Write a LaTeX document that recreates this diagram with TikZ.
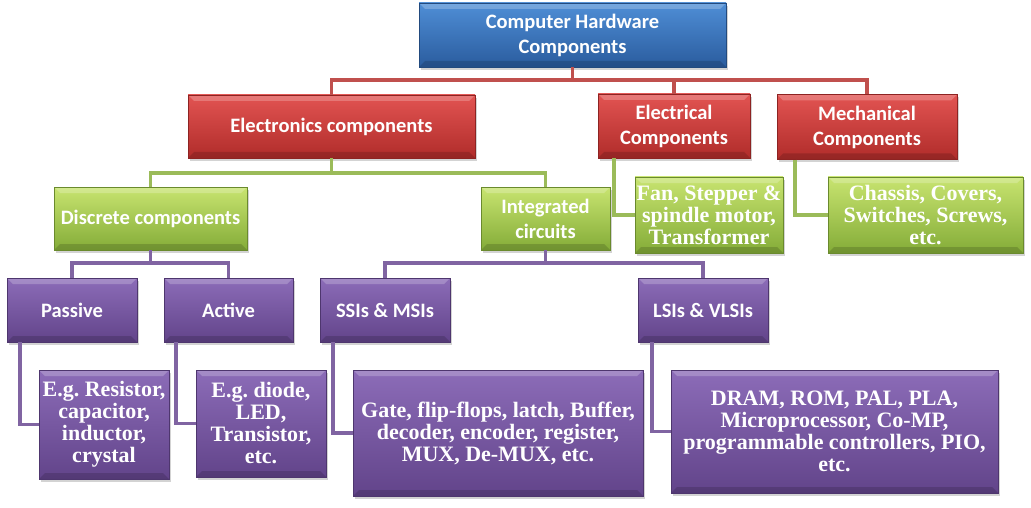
\documentclass[tikz,border=0pt]{standalone}
\usepackage{fontspec}
\usepackage{tikz}
\usetikzlibrary{shapes,shadows}
\newfontfamily\headfont{Carlito}
\newfontfamily\leaffont{Liberation Serif}
\frenchspacing

\definecolor{hwblueT}{RGB}{79,142,214}
\definecolor{hwblueB}{RGB}{42,92,158}
\definecolor{hwredT}{RGB}{226,84,82}
\definecolor{hwredB}{RGB}{176,44,42}
\definecolor{hwgreenT}{RGB}{200,228,112}
\definecolor{hwgreenB}{RGB}{132,172,56}
\definecolor{hwpurpT}{RGB}{140,108,184}
\definecolor{hwpurpB}{RGB}{98,68,138}
\definecolor{lnred}{RGB}{192,80,77}
\definecolor{lngreen}{RGB}{155,187,89}
\definecolor{lnpurp}{RGB}{128,100,162}

\tikzset{
	box/.style      = {rectangle, inner sep=0pt, align=center, text=white,
		drop shadow={shadow xshift=2pt, shadow yshift=-3pt, opacity=0.35},
		path picture={
			\fill[white, opacity=0.22] (path picture bounding box.north west)
			-- (path picture bounding box.north east)
			-- ([xshift=-6pt, yshift=-6pt]path picture bounding box.north east)
			-- ([xshift=6pt, yshift=-6pt]path picture bounding box.north west) -- cycle;
			\fill[black, opacity=0.15] (path picture bounding box.south west)
			-- (path picture bounding box.south east)
			-- ([xshift=-6pt, yshift=6pt]path picture bounding box.south east)
			-- ([xshift=6pt, yshift=6pt]path picture bounding box.south west) -- cycle;
		}},
	head/.style     = {box, font=\headfont\bfseries\fontsize{20.5}{25}\selectfont},
	leaf/.style     = {box, font=\leaffont\bfseries\fontsize{22}{22}\selectfont},
	blue/.style     = {top color=hwblueT, bottom color=hwblueB, draw=hwblueB!80!black},
	red/.style      = {top color=hwredT, bottom color=hwredB, draw=hwredB!80!black},
	green/.style    = {top color=hwgreenT, bottom color=hwgreenB, draw=hwgreenB!80!black},
	purp/.style     = {top color=hwpurpT, bottom color=hwpurpB, draw=hwpurpB!80!black},
	redline/.style  = {draw=lnred, line width=3.5pt},
	grnline/.style  = {draw=lngreen, line width=3.5pt},
	purline/.style  = {draw=lnpurp, line width=3.5pt}
}

\begin{document}
\begin{tikzpicture}[x=1pt, y=-1pt]
	\useasboundingbox (0,0) rectangle (1031,508);
	\draw
	node at (572.5,35)[head, blue, minimum width=307, minimum height=64] (root) {Computer Hardware\\Components}
	node at (331.5,126.5)[head, red, minimum width=287, minimum height=63] (elc) {Electronics components}
	node at (674,126)[head, red, minimum width=152, minimum height=64] (elt) {Electrical\\Components}
	node at (867,127)[head, red, minimum width=180, minimum height=65] (mech) {Mechanical\\Components}
	node at (150.5,218.5)[head, green, minimum width=193, minimum height=63] (disc) {Discrete components}
	node at (545.5,218.5)[head, green, minimum width=129, minimum height=63] (ic) {Integrated\\circuits}
	node at (709,215)[leaf, green, minimum width=148, minimum height=76] (fan) {Fan, Stepper \&\\spindle motor,\\Transformer}
	node at (925.5,215)[leaf, green, minimum width=195, minimum height=76] (chas) {Chassis, Covers,\\Switches, Screws,\\etc.}
	node at (72,310)[head, purp, minimum width=130, minimum height=64] (pas) {Passive}
	node at (228.5,310)[head, purp, minimum width=129, minimum height=64] (act) {Active}
	node at (385,310)[head, purp, minimum width=130, minimum height=64] (ssi) {SSIs \& MSIs}
	node at (703,310)[head, purp, minimum width=130, minimum height=64] (lsi) {LSIs \& VLSIs}
	node at (104,424.5)[leaf, purp, minimum width=130, minimum height=109] (pasx) {E.g. Resistor,\\capacitor,\\inductor,\\crystal}
	node at (261,423.5)[leaf, purp, minimum width=130, minimum height=107] (actx) {E.g. diode,\\LED,\\Transistor,\\etc.}
	node at (498,433)[leaf, purp, minimum width=290, minimum height=126] (ssix) {Gate, flip-flops, latch, Buffer,\\decoder, encoder, register,\\MUX, De-MUX, etc.}
	node at (834.5,431.5)[leaf, purp, minimum width=327, minimum height=123] (lsix) {DRAM, ROM, PAL, PLA,\\Microprocessor, Co-MP,\\programmable controllers, PIO,\\etc.}
	;
	
	% top level
	\draw[redline] (root.south) -- ++(0,13) -| (elc.north);
	\draw[redline] (root.south) -- ++(0,13) -| (elt.north);
	\draw[redline] (root.south) -- ++(0,13) -| (mech.north);
	% electronics
	\draw[grnline] (elc.south) -- ++(0,15) -| (disc.north);
	\draw[grnline] (elc.south) -- ++(0,15) -| (ic.north);
	\draw[grnline] ([xshift=16pt]elt.south west) |- (fan.west);
	\draw[grnline] ([xshift=18pt]mech.south west) |- (chas.west);
	% discrete and integrated
	\draw[purline] (disc.south) -- ++(0,13) -| (pas.north);
	\draw[purline] (disc.south) -- ++(0,13) -| (act.north);
	\draw[purline] (ic.south) -- ++(0,13) -| (ssi.north);
	\draw[purline] (ic.south) -- ++(0,13) -| (lsi.north);
	\draw[purline] ([xshift=13pt]pas.south west) |- (pasx.west);
	\draw[purline] ([xshift=12pt]act.south west) |- (actx.west);
	\draw[purline] ([xshift=13pt]ssi.south west) |- (ssix.west);
	\draw[purline] ([xshift=14pt]lsi.south west) |- (lsix.west);
\end{tikzpicture}
\end{document}
